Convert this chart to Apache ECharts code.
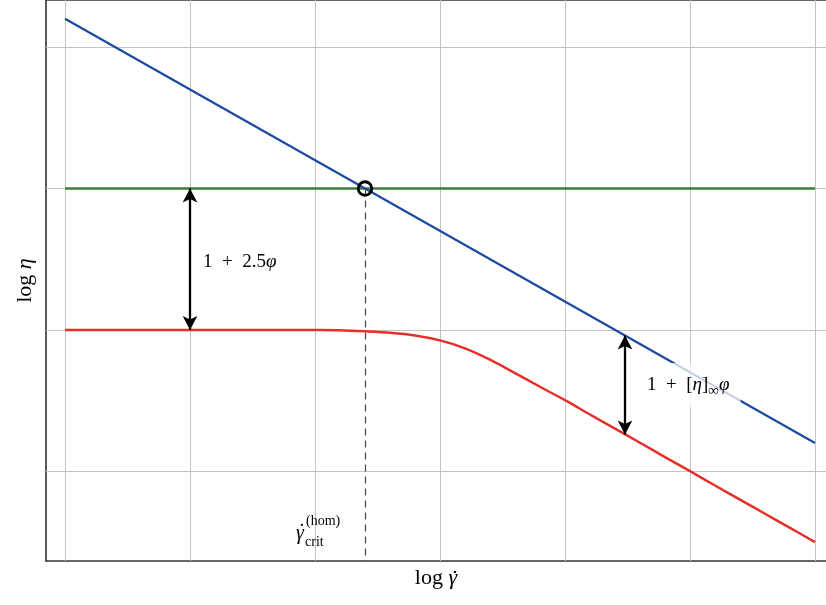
<!DOCTYPE html>
<html><head><meta charset="utf-8">
<script src="https://cdn.jsdelivr.net/npm/echarts@6/dist/echarts.min.js"></script>
<style>html,body{margin:0;padding:0;background:#fff}#c{width:826px;height:605px}</style>
</head><body><div id="c"></div>
<script>
// ---- data (log-log schematic, arbitrary units) ----
const xRange = [-0.152, 6.088];
const yRange = [-0.634, 3.333];
const gridXTicks = [0, 1, 2, 3, 4, 5, 6];
const gridYTicks = [0, 1, 2, 3];
const blueX = [0, 6];
const blueY = [3.2, 0.2];
const greenX = [0, 6];
const greenY = [2, 2];
const redX = [0, 0.2, 0.4, 0.6, 0.8, 1.0, 1.2, 1.4, 1.6, 1.8, 2.0, 2.2, 2.4, 2.6, 2.8, 3.0, 3.2, 3.4, 3.6, 3.8, 4.0, 4.2, 4.4, 4.6, 4.8, 5.0, 5.2, 5.4, 5.6, 5.8, 6.0];
const redY = [1, 1, 1, 1, 1, 1, 1, 1, 1, 1, 0.999, 0.997, 0.99, 0.98, 0.961, 0.926, 0.87, 0.79, 0.695, 0.598, 0.503, 0.402, 0.302, 0.202, 0.101, 0.001, -0.1, -0.2, -0.3, -0.4, -0.5];
const critPoint = [2.4, 2];
const arrow1X = 1, arrow1Y = [2, 1];
const arrow2X = 4.48, arrow2Y = [0.96, 0.26];
const label1Pos = [1.104, 1.48];
const label2Pos = [4.64, 0.61];
const critLabelPos = [1.848, -0.44];

const SERIF = "'Liberation Serif','DejaVu Serif',serif";
const zip = (xs, ys) => xs.map((x, i) => [x, ys[i]]);

const chart = echarts.init(document.getElementById('c'));
const hiddenAxis = {
  axisTick: {show: false}, axisLabel: {show: false}, splitLine: {show: false}
};
const NAME_SIZE = 22;
const option = {
  animation: false,
  grid: {left: 46, right: 0, top: 0, bottom: 44},
  xAxis: [
    Object.assign({
      type: 'value', min: xRange[0], max: xRange[1],
      axisLine: {show: true, onZero: false, lineStyle: {color: '#333', width: 1.5}},
      name: '{n|log }{i|γ}', nameLocation: 'middle', nameGap: 6,
      nameTextStyle: {rich: {
        n: {fontFamily: SERIF, fontSize: NAME_SIZE, color: '#000'},
        i: {fontFamily: SERIF, fontSize: NAME_SIZE, fontStyle: 'italic', color: '#000'}
      }}
    }, hiddenAxis),
    Object.assign({
      type: 'value', position: 'top', min: xRange[0], max: xRange[1],
      axisLine: {show: true, onZero: false, lineStyle: {color: '#333', width: 1.5}}
    }, hiddenAxis)
  ],
  yAxis: Object.assign({
    type: 'value', min: yRange[0], max: yRange[1],
    axisLine: {show: true, onZero: false, lineStyle: {color: '#222', width: 1.5}},
    name: '{n|log }{i|η}', nameLocation: 'middle', nameGap: 10, nameRotate: 90,
    nameTextStyle: {rich: {
      n: {fontFamily: SERIF, fontSize: NAME_SIZE, color: '#000'},
      i: {fontFamily: SERIF, fontSize: NAME_SIZE, fontStyle: 'italic', color: '#000'}
    }}
  }, hiddenAxis),
  series: [
    { // grid lines
      type: 'line', data: [[xRange[0], yRange[0]]], showSymbol: false, silent: true, z: 1,
      lineStyle: {width: 0},
      markLine: {
        silent: true, symbol: ['none', 'none'], label: {show: false}, z: 1,
        lineStyle: {color: '#c4c4c4', width: 1, type: 'solid'},
        animation: false,
        data: gridXTicks.map(v => ({xAxis: v})).concat(gridYTicks.map(v => ({yAxis: v})))
      }
    },
    {type: 'line', data: zip(greenX, greenY), showSymbol: false, z: 3,
     lineStyle: {color: '#3a7d3c', width: 2.5}},
    {type: 'line', data: zip(blueX, blueY), showSymbol: false, z: 3,
     lineStyle: {color: '#1c4aa0', width: 2.2}},
    {type: 'line', data: zip(redX, redY), showSymbol: false, smooth: 0.3, z: 3,
     lineStyle: {color: '#e8302a', width: 2.5}},
    { // dashed critical line + arrows
      type: 'line', data: [], z: 4,
      markLine: {
        silent: true, animation: false, label: {show: false}, z: 4,
        data: [
          [{coord: critPoint, symbol: 'none', lineStyle: {color: '#444', width: 1.2, type: [7, 5]}},
           {coord: [critPoint[0], yRange[0]], symbol: 'none'}],
          [{coord: [arrow1X, arrow1Y[0]], symbol: 'arrow', symbolSize: [11, 14], lineStyle: {color: '#000', width: 2.3, type: 'solid'}},
           {coord: [arrow1X, arrow1Y[1]], symbol: 'arrow', symbolSize: [11, 14]}],
          [{coord: [arrow2X, arrow2Y[0]], symbol: 'arrow', symbolSize: [11, 14], lineStyle: {color: '#000', width: 2.3, type: 'solid'}},
           {coord: [arrow2X, arrow2Y[1]], symbol: 'arrow', symbolSize: [11, 14]}]
        ]
      }
    },
    {type: 'scatter', data: [critPoint], symbol: 'circle', symbolSize: 13.5, z: 6,
     itemStyle: {color: 'rgba(0,0,0,0)', borderColor: '#000', borderWidth: 2.8, opacity: 1}}
  ]
};
chart.setOption(option);

const px = p => chart.convertToPixel({xAxisIndex: 0, yAxisIndex: 0}, p);
const ctx = document.createElement('canvas').getContext('2d');
const measure = (t, size, italic) => {
  ctx.font = (italic ? 'italic ' : '') + size + 'px ' + SERIF;
  return ctx.measureText(t).width;
};
const richBase = {
  n: {fontFamily: SERIF, fontSize: 19, fill: '#000', lineHeight: 26},
  i: {fontFamily: SERIF, fontSize: 19, fontStyle: 'italic', fill: '#000', lineHeight: 26},
  s: {fontFamily: SERIF, fontSize: 15, fill: '#000', verticalAlign: 'bottom', lineHeight: 15}
};
const l1 = px(label1Pos), l2 = px(label2Pos), lc = px(critLabelPos);
const origin = px([xRange[0], yRange[0]]), corner = px([xRange[1], yRange[1]]);
// dot over the gamma of the x axis name
const wLog = measure('log ', NAME_SIZE, false), wG = measure('γ', NAME_SIZE, true);
const nameLeft = (origin[0] + corner[0]) / 2 - (wLog + wG) / 2;
const nameMidY = origin[1] + 6 + NAME_SIZE * 0.6;
const wG2 = measure('γ', 20, true);
chart.setOption({
  graphic: [
    {type: 'text', x: l1[0], y: l1[1], z: 10,
     style: {text: '{n|1\u2002+\u20022.5}{i|φ}', rich: richBase, align: 'left', verticalAlign: 'middle'}},
    {type: 'text', x: l2[0], y: l2[1], z: 10,
     style: {text: '{n|1\u2002+\u2002[}{i|η}{n|]}{s|∞}{i|φ}', rich: richBase, align: 'left', verticalAlign: 'middle',
       backgroundColor: 'rgba(255,255,255,0.75)', padding: [9, 11, 9, 2]}},
    {type: 'text', x: nameLeft + wLog + wG / 2 + 2, y: nameMidY - 1, z: 10,
     style: {text: '˙', fontFamily: SERIF, fontSize: NAME_SIZE, fill: '#000', align: 'center', verticalAlign: 'middle'}},
    {type: 'text', x: lc[0], y: lc[1], z: 10,
     style: {text: 'γ', fontFamily: SERIF, fontSize: 20, fontStyle: 'italic', fill: '#000', align: 'left', verticalAlign: 'middle'}},
    {type: 'text', x: lc[0] + wG2 / 2 + 2, y: lc[1] - 1, z: 10,
     style: {text: '˙', fontFamily: SERIF, fontSize: 20, fill: '#000', align: 'center', verticalAlign: 'middle'}},
    {type: 'text', x: lc[0] + 10, y: lc[1] - 12, z: 10,
     style: {text: '(hom)', fontFamily: SERIF, fontSize: 14, fill: '#000', align: 'left', verticalAlign: 'middle'}},
    {type: 'text', x: lc[0] + 9, y: lc[1] + 9, z: 10,
     style: {text: 'crit', fontFamily: SERIF, fontSize: 14, fill: '#000', align: 'left', verticalAlign: 'middle'}}
  ]
});
</script></body></html>
